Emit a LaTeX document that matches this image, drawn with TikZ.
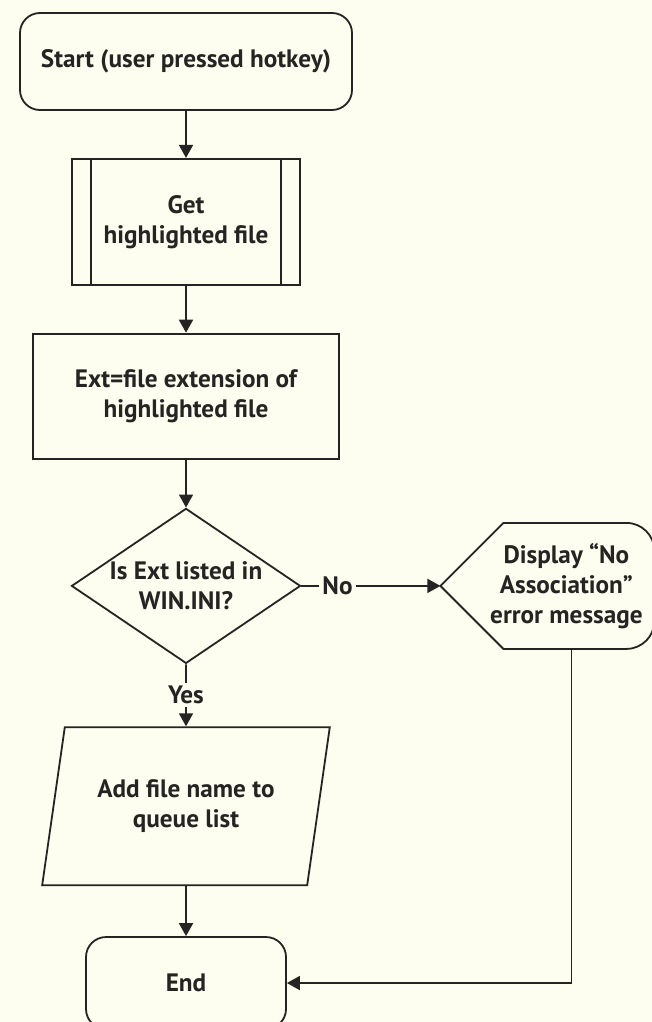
\documentclass[tikz,border=0pt]{standalone}
\usepackage{fontspec}
\setmainfont{PT Sans}
\usepackage{tikz}
\usetikzlibrary{arrows.meta,positioning,shapes.geometric,calc}
\definecolor{paper}{RGB}{253,253,240}
\definecolor{ink}{RGB}{38,36,34}

\begin{document}
\begin{tikzpicture}[
  font=\bfseries\fontsize{12.6}{15}\selectfont,
  color=ink,
  line width=0.9pt,
  term/.style={draw,rounded corners=10pt,align=center},
  proc/.style={draw,align=center},
  decide/.style={draw,diamond,aspect=1.48,inner sep=-10pt,align=center,minimum width=114.5pt,minimum height=77.5pt},
  io/.style={draw,trapezium,trapezium left angle=75,trapezium right angle=105,trapezium stretches=true,align=center,minimum width=144pt,minimum height=79pt},
  arr/.style={-{Triangle[length=6.5pt,width=7pt]}},
  lbl/.style={fill=paper,inner sep=1.5pt}
]
\fill[paper] (0,0) rectangle (326pt,-511pt);
\useasboundingbox (0,0) rectangle (326pt,-511pt);

\node[term,minimum width=166pt,minimum height=48.5pt] (start) at (93pt,-30.75pt) {Start (user pressed hotkey)};
\node[proc,minimum width=114pt,minimum height=63pt,below=23.5pt of start] (get) {Get\\highlighted file};
\draw ([xshift=10pt]get.north west) -- ([xshift=10pt]get.south west);
\draw ([xshift=-10pt]get.north east) -- ([xshift=-10pt]get.south east);
\node[proc,minimum width=153pt,minimum height=62.5pt,below=23.5pt of get] (ext) {Ext=file extension of\\highlighted file};
\node[decide,below=24pt of ext] (dec) {Is Ext listed in\\WIN.INI?};
\node[io,below=31pt of dec] (add) {Add file name to\\queue list};
\node[term,minimum width=100pt,minimum height=46pt,below=25pt of add] (end) {End};

% display box on the right
\node[align=center] (disp) at ($(dec.east)+(132.5pt,0)$) {Display “No\\Association”\\error message};
\coordinate (dispin) at ([xshift=-63pt]disp.center);
\coordinate (dispout) at ([xshift=2.5pt,yshift=-31.5pt]disp.center);
\draw (dispin) -- ++(31.5pt,31.5pt) -- ++(61.5pt,0) arc[start angle=90,end angle=0,radius=14pt]
  -- ++(0,-35pt) arc[start angle=0,end angle=-90,radius=14pt] -- ++(-61.5pt,0) -- cycle;

\draw[arr] (start) -- (get);
\draw[arr] (get) -- (ext);
\draw[arr] (ext) -- (dec);
\draw[arr] (dec) -- node[lbl]{Yes} (add);
\draw[arr] (add) -- (end);
\draw[arr] (dec) -- node[lbl,pos=0.26]{No} (dispin);
\draw[arr] (dispout) |- (end);
\end{tikzpicture}
\end{document}
